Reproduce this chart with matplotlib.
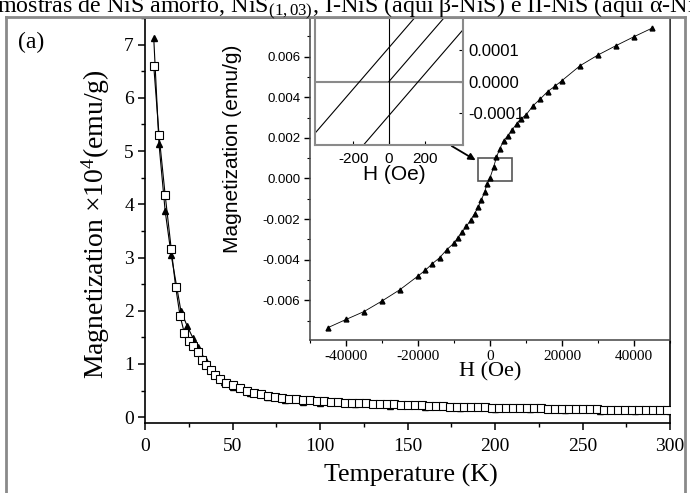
import numpy as np
import matplotlib.pyplot as plt
from matplotlib.lines import Line2D
from matplotlib.patches import Rectangle
from matplotlib.ticker import MultipleLocator, FormatStrFormatter

plt.rcParams['font.family'] = 'Liberation Serif'
plt.rcParams['mathtext.fontset'] = 'custom'
plt.rcParams['mathtext.rm'] = 'Liberation Serif'
plt.rcParams['mathtext.it'] = 'Liberation Serif:italic'
plt.rcParams['axes.unicode_minus'] = False

# main plot: M(T), open squares and filled triangles
T_sq = [5, 8, 11.5, 15, 17.5, 20, 22.5, 25, 27.5, 30, 32.5, 35, 37.5, 40, 43, 46.5,
        50, 54, 58, 62, 66, 70, 74, 78, 82, 86, 90, 94, 98, 102, 106, 110, 114, 118,
        122, 126, 130, 134, 138, 142, 146, 150, 154, 158, 162, 166, 170, 174, 178,
        182, 186, 190, 194, 198, 202, 206, 210, 214, 218, 222, 226, 230, 234, 238,
        242, 246, 250, 254, 258, 262, 266, 270, 274, 278, 282, 286, 290, 294, 298]
M_sq = [6.60, 5.31, 4.18, 3.16, 2.45, 1.91, 1.58, 1.44, 1.33, 1.22, 1.08, 0.98, 0.88,
        0.79, 0.71, 0.65, 0.60, 0.55, 0.50, 0.46, 0.43, 0.40, 0.38, 0.36, 0.35, 0.34,
        0.33, 0.32, 0.31, 0.30, 0.29, 0.28, 0.275, 0.27, 0.265, 0.26, 0.255, 0.25,
        0.245, 0.24, 0.235, 0.23, 0.225, 0.22, 0.215, 0.21, 0.205, 0.20, 0.20, 0.195,
        0.19, 0.19, 0.185, 0.18, 0.18, 0.175, 0.175, 0.17, 0.17, 0.165, 0.165, 0.16,
        0.16, 0.155, 0.155, 0.15, 0.15, 0.148, 0.146, 0.144, 0.142, 0.14, 0.138,
        0.136, 0.134, 0.132, 0.13, 0.128, 0.126]
T_tri = [5, 8, 11.5, 15, 20.5, 24, 27.5, 30, 35, 40, 45, 50, 60, 70, 80, 90, 100,
         120, 140, 160, 180, 200, 220, 240, 260, 280, 300]
M_tri = [7.12, 5.13, 3.88, 3.04, 2.00, 1.72, 1.48, 1.32, 1.05, 0.80, 0.66, 0.57,
         0.45, 0.37, 0.32, 0.29, 0.27, 0.24, 0.21, 0.19, 0.17, 0.16, 0.145, 0.135,
         0.125, 0.115, 0.11]

# inset: M(H) loop
H_in = [-45000, -40000, -35000, -30000, -25000, -20000, -18000, -16000, -14000,
        -12000, -10000, -9000, -7800, -6600, -5400, -4300, -3300, -2400, -1500, -800,
        0, 1000, 1800, 2700, 3800, 5000, 6200, 7400, 8500, 10000, 12000, 14000, 16000,
        18000, 20000, 25000, 30000, 35000, 40000, 45000]
M_in = [-0.00734, -0.00694, -0.00655, -0.00603, -0.00547, -0.0048, -0.00452,
        -0.00419, -0.0039, -0.0035, -0.00318, -0.00293, -0.00264, -0.00236, -0.00206,
        -0.00173, -0.00141, -0.00105, -0.00067, -0.00026, 0.00003, 0.00056, 0.00105,
        0.00146, 0.00187, 0.00211, 0.00241, 0.00269, 0.00293, 0.00313, 0.00359,
        0.00392, 0.00428, 0.00454, 0.00482, 0.00555, 0.00608, 0.00654, 0.00698, 0.0074]
zoom_H = [-3400, 6000]
zoom_M = [-0.0001, 0.00102]

# nested zoom of the loop near the origin
H_desc = [-415, 143]
M_desc = [-0.000163, 0.0002]
H_asc = [-143, 415]
M_asc = [-0.0002, 0.000163]
H_virgin = [0, 308]
M_virgin = [0, 0.0002]

caption = ('mostras de NiS amorfo, NiS$_{\\rm (1,03)}$, I-NiS (aqui \u03b2-NiS) '
           'e II-NiS (aqui \u03b1-NiS)')

W, H = 690, 493
fig = plt.figure(figsize=(6.9, 4.93), dpi=100)


def px_rect(x0, y0, x1, y1):
    return [x0 / W, 1 - y1 / H, (x1 - x0) / W, (y1 - y0) / H]


# frame around the figure
gray = '#8a8a8a'
for xs, ys in [([6, 6], [17, H]), ([685, 685], [17, H]), ([6, 685], [17, 17])]:
    fig.add_artist(Line2D([x / W for x in xs], [1 - y / H for y in ys],
                          color=gray, lw=2, transform=fig.transFigure))

fig.text(-3 / W, 1 - 13 / H, caption, fontsize=17.3, va='baseline', ha='left')
fig.text(18 / W, 1 - 42 / H, '(a)', fontsize=17, va='center', ha='left')

# main axes
ax = fig.add_axes(px_rect(145, 18, 670, 422.5))
ax.plot(T_tri, M_tri, '-^', color='k', ms=5, lw=0.8, zorder=2)
ax.plot(T_sq, M_sq, '-s', color='k', mfc='white', ms=5.5, mew=0.8, lw=0.8, zorder=3)
ax.set_xlim(0, 300)
ax.set_ylim(-0.1, 7.5)
ax.xaxis.set_major_locator(MultipleLocator(50))
ax.xaxis.set_minor_locator(MultipleLocator(25))
ax.yaxis.set_major_locator(MultipleLocator(1))
ax.yaxis.set_minor_locator(MultipleLocator(0.5))
ax.tick_params(which='major', direction='out', length=5, width=1.1, labelsize=14, pad=3)
ax.tick_params(which='minor', direction='out', length=3, width=1)
ax.tick_params(axis='x', which='major', pad=6)
for s in ax.spines.values():
    s.set_linewidth(1.2)
ax.set_xlabel('Temperature (K)', fontsize=18.7)
ax.xaxis.set_label_coords(0.507, -0.103)
ax.set_ylabel('Magnetization \u00d710$^4$(emu/g)', fontsize=20)
ax.yaxis.set_label_coords(-0.063, 0.49)

# inset M(H)
ax2 = fig.add_axes(px_rect(310, 18, 670, 340))
ax2.plot(H_in, M_in, '-^', color='k', ms=3.5, lw=0.6)
ax2.add_patch(Rectangle((zoom_H[0], zoom_M[0]), zoom_H[1] - zoom_H[0],
                        zoom_M[1] - zoom_M[0], fill=False, ec='#555555', lw=1.2))
ax2.set_xlim(-50000, 50000)
ax2.set_ylim(-0.00795, 0.0079)
ax2.xaxis.set_major_locator(MultipleLocator(20000))
ax2.xaxis.set_minor_locator(MultipleLocator(10000))
ax2.yaxis.set_major_locator(MultipleLocator(0.002))
ax2.yaxis.set_minor_locator(MultipleLocator(0.001))
ax2.yaxis.set_major_formatter(FormatStrFormatter('%.3f'))
ax2.tick_params(which='major', direction='out', length=4, width=1)
ax2.tick_params(which='minor', direction='out', length=2.5, width=0.8)
ax2.tick_params(axis='y', labelsize=9.5, labelfontfamily='Liberation Sans', pad=3)
ax2.tick_params(axis='x', labelsize=11, pad=3)
for s in ax2.spines.values():
    s.set_linewidth(1.1)
    s.set_color('#444444')
ax2.set_xlabel('H (Oe)', fontsize=16)
ax2.xaxis.set_label_coords(0.5, -0.07)
ax2.set_ylabel('Magnetization (emu/g)', fontsize=15, family='Liberation Sans')
ax2.yaxis.set_label_coords(-0.19, 0.594)
ax2.annotate('', xy=(-4000, 0.0009), xycoords='data',
             xytext=(451.7, H - 146), textcoords='figure pixels',
             arrowprops=dict(arrowstyle='-|>', color='k', lw=1.3,
                             mutation_scale=10, shrinkA=0, shrinkB=0),
             annotation_clip=False)

# nested zoom
ax3 = fig.add_axes(px_rect(315, 18, 463, 145))
ax3.set_facecolor('white')
ax3.axhline(0, color='#8a8a8a', lw=1.5)
ax3.axvline(0, color='k', lw=0.8)
ax3.plot(H_desc, M_desc, color='k', lw=0.8)
ax3.plot(H_asc, M_asc, color='k', lw=0.8)
ax3.plot(H_virgin, M_virgin, color='k', lw=0.8)
ax3.set_xlim(-415, 415)
ax3.set_ylim(-0.0002, 0.0002)
ax3.set_xticks([-200, 0, 200])
ax3.set_yticks([-0.0001, 0, 0.0001])
ax3.yaxis.set_major_formatter(FormatStrFormatter('%.4f'))
ax3.yaxis.tick_right()
ax3.tick_params(direction='in', length=3, width=0.8, labelfontfamily='Liberation Sans')
ax3.tick_params(axis='x', labelsize=11, pad=5)
ax3.tick_params(axis='y', labelsize=12, pad=4)
for s in ax3.spines.values():
    s.set_linewidth(1.5)
    s.set_color('#8a8a8a')
ax3.set_xlabel('H (Oe)', fontsize=15, family='Liberation Sans')
ax3.xaxis.set_label_coords(0.534, -0.16)

fig.savefig('out.png', dpi=100)
